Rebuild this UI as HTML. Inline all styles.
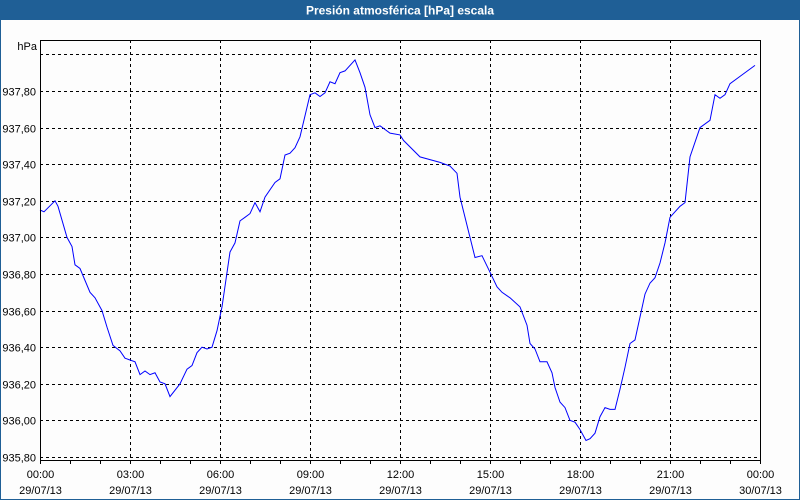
<!DOCTYPE html>
<html><head><meta charset="utf-8"><style>
html,body{margin:0;padding:0;background:#fff;}
svg{display:block;font-family:"Liberation Sans",sans-serif;}
</style></head><body>
<svg id="c" width="800" height="500" viewBox="0 0 800 500">
<rect x="0" y="0" width="800" height="500" fill="#fdfdfd"/>
<rect x="0.5" y="0.5" width="799" height="499" fill="none" stroke="#1f5f96"/>
<rect x="0" y="0" width="800" height="20" fill="#1f5f96"/>
<text x="400" y="14.5" text-anchor="middle" font-size="12" font-weight="bold" fill="#fff">Presión atmosférica [hPa] escala</text>
<text x="37" y="50" text-anchor="end" font-size="11" fill="#000">hPa</text>
<g id="grid"></g><g id="axes"></g><g id="series"></g>
<rect x="40.5" y="40.5" width="720" height="420" fill="none" stroke="#000"/>
</svg>
<script>
const minutes=[0,8,30,36,54,64,70,80,100,110,124,134,146,160,170,190,200,210,220,230,240,250,260,280,294,304,314,324,334,344,354,364,380,390,400,410,420,430,440,450,470,480,490,500,510,520,540,550,560,570,580,590,600,610,630,640,650,660,670,680,700,720,727,760,800,820,834,840,850,860,870,884,900,914,924,940,960,974,980,990,1000,1014,1024,1030,1040,1050,1060,1070,1080,1092,1100,1110,1120,1130,1140,1150,1160,1170,1180,1190,1210,1220,1230,1240,1250,1260,1280,1290,1300,1320,1340,1350,1360,1370,1380,1400,1430];
const values=[937.15,937.14,937.20,937.17,937.00,936.95,936.85,936.83,936.70,936.67,936.60,936.51,936.41,936.38,936.34,936.32,936.25,936.27,936.25,936.26,936.21,936.20,936.13,936.20,936.28,936.30,936.37,936.40,936.39,936.40,936.49,936.62,936.92,936.97,937.09,937.11,937.13,937.19,937.14,937.22,937.30,937.32,937.45,937.46,937.49,937.55,937.78,937.79,937.77,937.79,937.85,937.84,937.90,937.91,937.97,937.90,937.82,937.67,937.60,937.61,937.57,937.56,937.53,937.44,937.41,937.39,937.35,937.22,937.11,937.00,936.89,936.90,936.81,936.73,936.70,936.67,936.62,936.52,936.42,936.39,936.32,936.32,936.26,936.18,936.10,936.07,936.00,935.99,935.95,935.89,935.90,935.93,936.02,936.07,936.06,936.06,936.17,936.29,936.42,936.44,936.69,936.75,936.78,936.86,936.97,937.11,937.17,937.19,937.44,937.60,937.64,937.78,937.76,937.78,937.84,937.88,937.94,937.90,937.81,937.67];
const yTicks=[935.8,936.0,936.2,936.4,936.6,936.8,937.0,937.2,937.4,937.6,937.8,938.0];
const xTimes=["00:00","03:00","06:00","09:00","12:00","15:00","18:00","21:00","00:00"];
const xDates=["29/07/13","29/07/13","29/07/13","29/07/13","29/07/13","29/07/13","29/07/13","29/07/13","30/07/13"];
const NS="http://www.w3.org/2000/svg";
const X=m=>40+m*0.5;
const Y=v=>54.4+(938-v)*183;
function mk(tag,attrs,parent){const e=document.createElementNS(NS,tag);for(const k in attrs)e.setAttribute(k,attrs[k]);parent.appendChild(e);return e;}
const grid=document.getElementById('grid'),axes=document.getElementById('axes'),series=document.getElementById('series');
yTicks.forEach((v,i)=>{
  const y=Math.round(Y(v))+0.5;
  const l=mk('line',{x1:40,x2:760,y1:y,y2:y,stroke:'#000','stroke-dasharray':'3,3'},grid);
  
  
  if(i<yTicks.length-1){
    const t=mk('text',{x:36,y:y+4,'text-anchor':'end','font-size':11,fill:'#000'},axes);
    t.textContent=v.toFixed(2).replace('.',',');
    
    
  }
});
xTimes.forEach((s,i)=>{
  const x=Math.round(X(i*180))+0.5;
  if(i>0&&i<xTimes.length-1){
    const l=mk('line',{x1:x,x2:x,y1:40,y2:460,stroke:'#000','stroke-dasharray':'3,3'},grid);
    
    
  }
  const t=mk('text',{x:x,y:478,'text-anchor':'middle','font-size':11,fill:'#000'},axes);
  t.textContent=s;
  
  
  const d=mk('text',{x:x,y:494,'text-anchor':'middle','font-size':11,fill:'#000'},axes);
  d.textContent=xDates[i];
  
  
});
for(let h=0;h<=24;h++){
  const x=Math.round(X(h*60))+0.5;
  const l=mk('line',{x1:x,x2:x,y1:460,y2:464,stroke:'#000'},axes);
  
  
}
const pts=minutes.map((m,i)=>X(m).toFixed(1)+','+Y(values[i]).toFixed(1)).join(' ');
const pl=mk('polyline',{points:pts,fill:'none',stroke:'#0000ff','stroke-width':1},series);


</script>
</body></html>
